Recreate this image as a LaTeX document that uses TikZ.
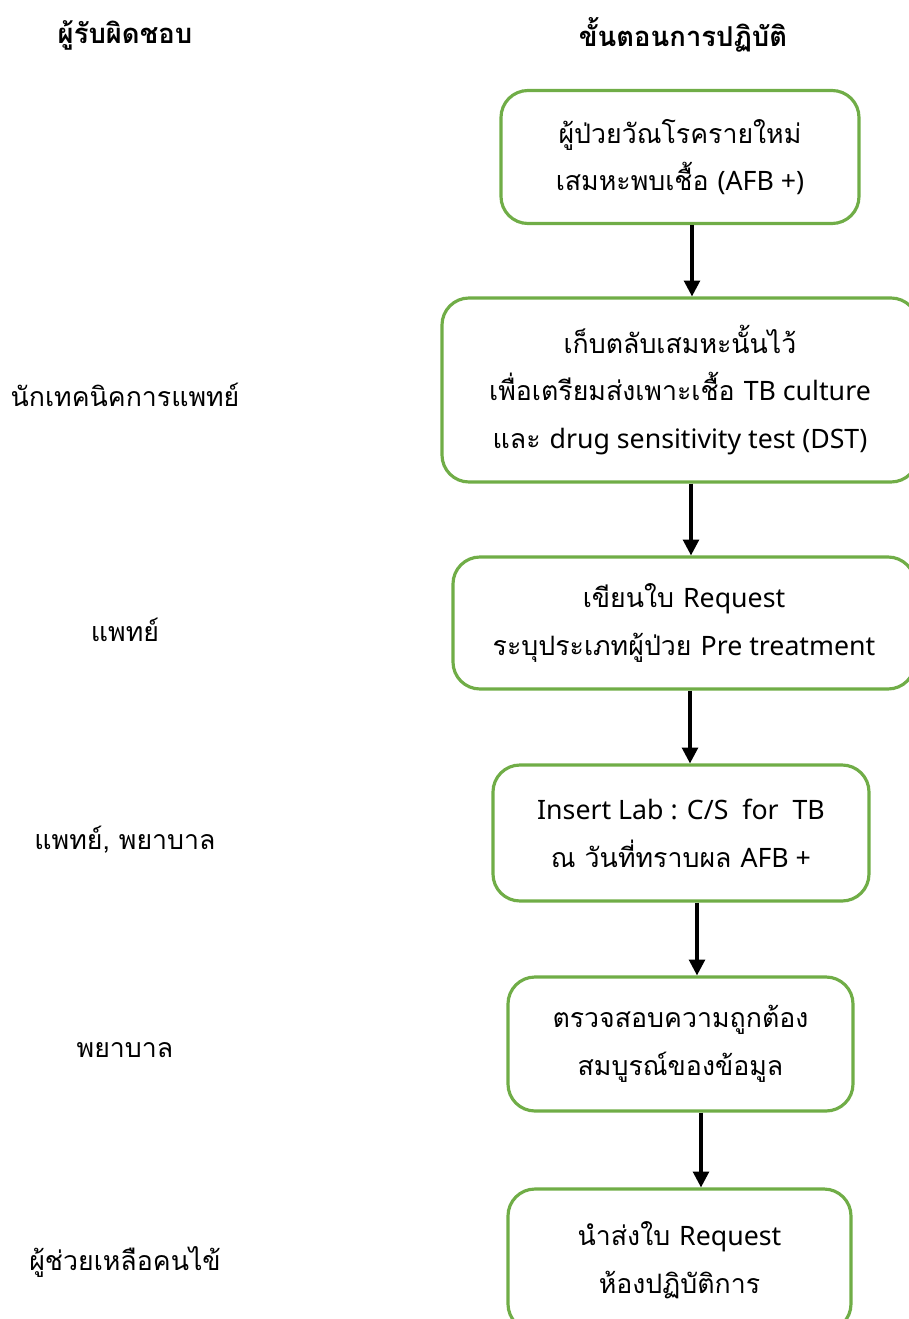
\documentclass[tikz,border=0pt]{standalone}
\usepackage{fontspec}
\setmainfont[Script=Thai]{Loma}
\newfontfamily\lat{Noto Sans}
\usetikzlibrary{arrows.meta, positioning}
\definecolor{boxgreen}{RGB}{112,173,71}
\def\stepx{6.80}
\def\whox{1.25}

\begin{document}
\begin{tikzpicture}[-{Triangle[width=4.5pt,length=4.5pt]}, line width=0.9pt, font=\fontsize{7.6}{13.6}\selectfont]
    \tikzstyle{stepbox}=[draw=boxgreen, rounded corners=0.27cm, align=center, inner sep=0pt]
    \tikzstyle{who}=[align=center]
    \tikzstyle{head}=[font=\fontsize{7.8}{13.6}\selectfont\bfseries]

    \useasboundingbox (0,0) rectangle (9.08,-13.19);

    % column heads
    \node[head] (H-who) at (\whox,-0.35) {ผู้รับผิดชอบ};
    \node[head] (H-step) at (6.83,-0.35) {ขั้นตอนการปฏิบัติ};

    % steps
    \node[stepbox, minimum width=3.58cm, minimum height=1.33cm] (S-1) at (\stepx,-1.57)
        {ผู้ป่วยวัณโรครายใหม่\\เสมหะพบเชื้อ {\lat (AFB +)}};
    \node[stepbox, minimum width=4.76cm, minimum height=1.84cm] (S-2) at (\stepx,-3.90)
        {เก็บตลับเสมหะนั้นไว้\\เพื่อเตรียมส่งเพาะเชื้อ {\lat TB culture}\\และ {\lat drug sensitivity test (DST)}};
    \node[stepbox, minimum width=4.62cm, minimum height=1.32cm] (S-3) at (6.84,-6.23)
        {เขียนใบ {\lat Request}\\ระบุประเภทผู้ป่วย {\lat Pre treatment}};
    \node[stepbox, minimum width=3.76cm, minimum height=1.36cm] (S-4) at (6.81,-8.33)
        {{\lat Insert Lab : C/S\ \ for\ \ TB}\\ณ วันที่ทราบผล {\lat AFB +}};
    \node[stepbox, minimum width=3.45cm, minimum height=1.34cm] (S-5) at (6.805,-10.44)
        {ตรวจสอบความถูกต้อง\\สมบูรณ์ของข้อมูล};
    \node[stepbox, minimum width=3.43cm, minimum height=1.42cm] (S-6) at (6.795,-12.60)
        {นำส่งใบ {\lat Request}\\ห้องปฏิบัติการ};

    % who does it
    \node[who] (W-2) at (\whox,-3.95) {นักเทคนิคการแพทย์};
    \node[who] (W-3) at (\whox,-6.30) {แพทย์};
    \node[who] (W-4) at (\whox,-8.40) {แพทย์, พยาบาล};
    \node[who] (W-5) at (\whox,-10.50) {พยาบาล};
    \node[who] (W-6) at (\whox,-12.62) {ผู้ช่วยเหลือคนไข้};

    \foreach \source/\dest/\dx in {1/2/0.12, 2/3/0.11, 3/4/0.10, 4/5/0.17, 5/6/0.21}
        \draw ([xshift=\dx cm]S-\source.south -| \stepx,0) -- ([xshift=\dx cm]S-\dest.north -| \stepx,0);
\end{tikzpicture}
\end{document}
